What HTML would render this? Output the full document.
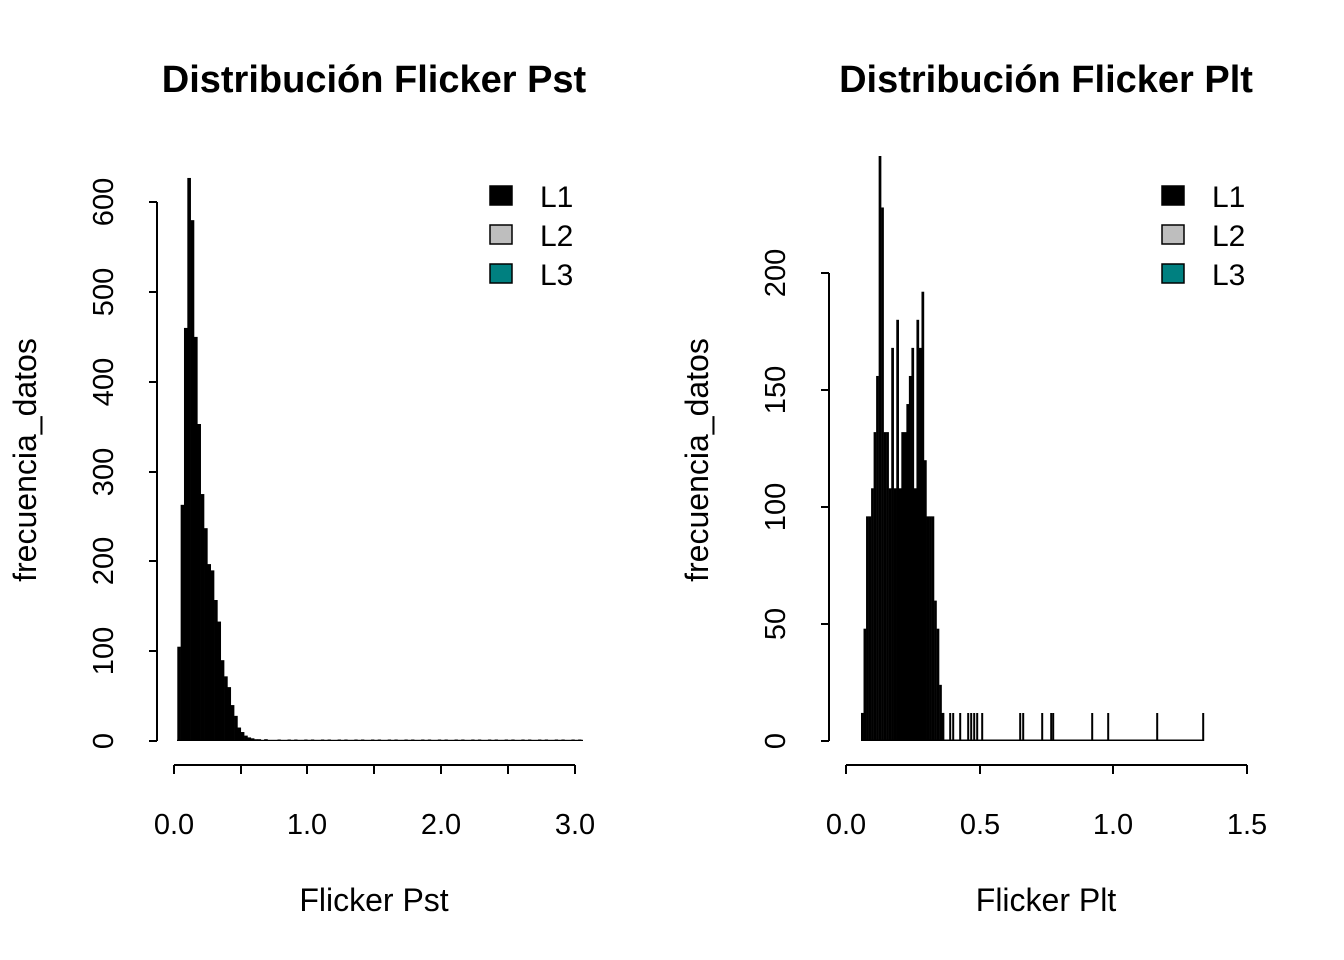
<!DOCTYPE html>
<html><head><meta charset="utf-8"><style>
html,body{margin:0;padding:0;background:#fff;}
svg{display:block;font-family:"Liberation Sans",Arial,sans-serif;}
</style></head><body>
<svg id="s" width="1344" height="960" viewBox="0 0 1344 960" xmlns="http://www.w3.org/2000/svg">
<rect width="1344" height="960" fill="#fff"/>
<text x="374" y="92" font-size="38" font-weight="bold" text-anchor="middle">Distribución Flicker Pst</text>
<text x="1046" y="92" font-size="38" font-weight="bold" text-anchor="middle">Distribución Flicker Plt</text>
<g stroke="#000" stroke-width="2" fill="none">
<path d="M157,202V741M149,741H157M149,651H157M149,561H157M149,472H157M149,382H157M149,292H157M149,202H157"/>
<path d="M174,765H575M174,765V774M241,765V774M307,765V774M374,765V774M441,765V774M508,765V774M575,765V774"/>
<path d="M829,273V741M821,741H829M821,624H829M821,507H829M821,390H829M821,273H829"/>
<path d="M846,765H1247M846,765V774M980,765V774M1113,765V774M1247,765V774"/>
</g>
<g font-size="29" text-anchor="middle">
<text transform="translate(113,741) rotate(-90)">0</text>
<text transform="translate(113,651) rotate(-90)">100</text>
<text transform="translate(113,561) rotate(-90)">200</text>
<text transform="translate(113,472) rotate(-90)">300</text>
<text transform="translate(113,382) rotate(-90)">400</text>
<text transform="translate(113,292) rotate(-90)">500</text>
<text transform="translate(113,202) rotate(-90)">600</text>
<text transform="translate(785,741) rotate(-90)">0</text>
<text transform="translate(785,624) rotate(-90)">50</text>
<text transform="translate(785,507) rotate(-90)">100</text>
<text transform="translate(785,390) rotate(-90)">150</text>
<text transform="translate(785,273) rotate(-90)">200</text>
<text x="174" y="834">0.0</text><text x="307" y="834">1.0</text><text x="441" y="834">2.0</text><text x="575" y="834">3.0</text>
<text x="846" y="834">0.0</text><text x="980" y="834">0.5</text><text x="1113" y="834">1.0</text><text x="1247" y="834">1.5</text>
</g>
<g font-size="32" text-anchor="middle">
<text x="374" y="911">Flicker Pst</text>
<text x="1046" y="911">Flicker Plt</text>
<text transform="translate(36,460) rotate(-90)">frecuencia_datos</text>
<text transform="translate(708,460) rotate(-90)">frecuencia_datos</text>
</g>
<g stroke="#000" stroke-width="1.5">
<rect x="490" y="186" width="22" height="19" fill="#000"/>
<rect x="490" y="225" width="22" height="19" fill="#bebebe"/>
<rect x="490" y="264" width="22" height="19" fill="#008080"/>
<rect x="1162" y="186" width="22" height="19" fill="#000"/>
<rect x="1162" y="225" width="22" height="19" fill="#bebebe"/>
<rect x="1162" y="264" width="22" height="19" fill="#008080"/>
</g>
<g font-size="30">
<text x="540" y="207">L1</text><text x="540" y="246">L2</text><text x="540" y="285">L3</text>
<text x="1212" y="207">L1</text><text x="1212" y="246">L2</text><text x="1212" y="285">L3</text>
</g>
<g id="h1" fill="#000"></g>
<g id="h2" fill="#000"></g>
</svg>
<script>
var ns="http://www.w3.org/2000/svg";
function r(g,x,w,h){if(h<=0)return;var e=document.createElementNS(ns,"rect");e.setAttribute("x",x);e.setAttribute("width",w);e.setAttribute("y",741-h);e.setAttribute("height",h);g.appendChild(e);}
var g1=document.getElementById("h1");
var c=[105,263,460,627,580,450,353,275,237,197,190,157,133,90,72,60,40,28,15,10,6,4,3,2,2,1,2,1,1,1];
var bw=3.34;
for(var i=0;i<c.length;i++)r(g1,177.3+i*bw,bw+0.3,c[i]*0.898);
for(var i=c.length;i<121;i++){if((i*7)%5<2)r(g1,177.3+i*bw,bw,1.5);}
r(g1,177,406,1.2);
var g2=document.getElementById("h2");
var d=[12,48,96,96,108,132,156,250,228,132,132,108,168,108,180,108,132,132,144,156,168,108,180,168,192,120,96,96,96,60,48,24,12];
var w2=2.52;
for(var i=0;i<d.length;i++)r(g2,861+i*w2,w2+0.2,d[i]*2.34);
var t=[942,950,953,960,968,971,974,977,982,1020,1023,1042,1051,1053,1092,1108,1157,1203];
for(var i=0;i<t.length;i++)r(g2,t[i]-0.8,2,28);
r(g2,861,343,1.5);
</script>
</body></html>
